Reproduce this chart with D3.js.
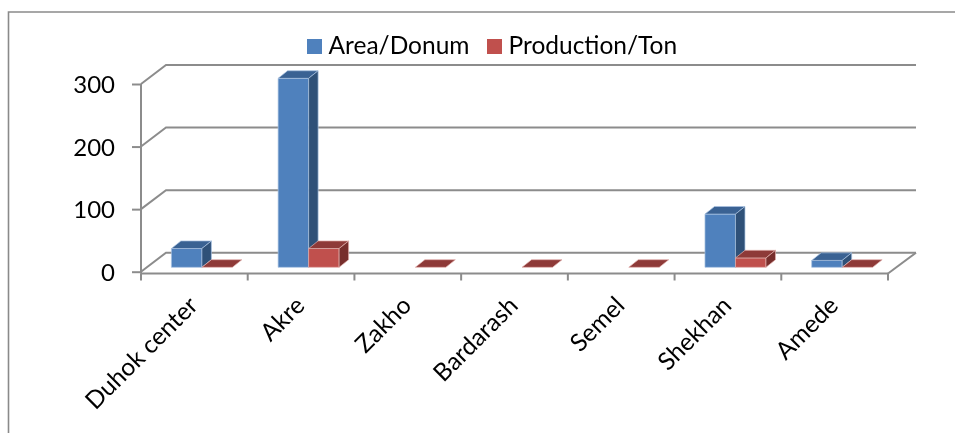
<!DOCTYPE html>
<html><head><meta charset="utf-8">
<script src="https://cdn.jsdelivr.net/npm/d3@7"></script>
<style>
html,body{margin:0;padding:0;background:#fff;overflow:hidden}
svg{display:block;filter:blur(0.35px)}
text{font-family:Lato,"Open Sans",sans-serif;fill:#000}
</style></head><body>
<svg id="c" width="955" height="433"></svg>
<script>
const categories = ["Duhok center","Akre","Zakho","Bardarash","Semel","Shekhan","Amede"];
const areaDonum = [30,302,0,0,0,85,11];
const productionTon = [0,30,0,0,0,15,0];
const yTicks = [0,100,200,300];
const seriesNames = ["Area/Donum","Production/Ton"];
const seriesValues = [areaDonum, productionTon];
const faceColors = ["#4F81BD","#C0504D"];
const topColors = ["#3A6293","#8E3A38"];
const sideColors = ["#2F5178","#772E2C"];
const edgeColors = ["#A9C3E2","#E3B0AE"];
const grid = "#8C8C8C";

const svg = d3.select("#c");
const x = d3.scaleBand().domain(categories).range([141,888]);
const y = d3.scaleLinear().domain([0,300]).range([271.7,84]);
const inner = d3.scaleBand().domain([0,1]).range([30.4,91.4]);
const wallDx = 25, wallDy = -19;
const barDx = 9.5, barDy = -7.6, barDrop = 4.4;

// frame
svg.append("path").attr("d","M8.5,433V12H955").attr("fill","none").attr("stroke","#8A8A8A").attr("stroke-width",1.6);

// back wall grid + side wall
const g = svg.append("g").attr("fill","none").attr("stroke",grid).attr("stroke-width",2);
g.selectAll(".back").data(yTicks).join("path")
  .attr("d",v=>`M${x.range()[0]},${y(v)}L${x.range()[0]+wallDx},${y(v)+wallDy}H${x.range()[1]+28}`);
g.append("path").attr("d",`M${x.range()[1]},${y(0)+1.8}L${x.range()[1]+28},${y(0)+wallDy}`);

// axes
const yAxis = svg.append("g").attr("transform",`translate(${x.range()[0]},0)`)
  .call(d3.axisLeft(y).tickValues(yTicks).tickSize(9).tickSizeOuter(0).tickPadding(7));
yAxis.select(".domain").attr("d",`M0,${y(300)}V${y(0)+2}`);
yAxis.selectAll("text").style("font-size","24px").attr("x",-26).attr("dy","0.36em");

const xAxis = svg.append("g").attr("transform",`translate(0,${y(0)+1.8})`)
  .call(d3.axisBottom(x).tickSize(0).tickFormat(""));
xAxis.select(".domain").attr("d",`M${x.range()[0]},0H${x.range()[1]}`);
xAxis.selectAll(".tick").remove();
const tickEdges = categories.map(c=>x(c)).concat([x.range()[1]]);
xAxis.selectAll(".edge").data(tickEdges).join("line").attr("class","edge")
  .attr("x1",d=>d).attr("x2",d=>d).attr("y1",0).attr("y2",7);
svg.selectAll(".domain,.tick line,.edge").attr("stroke",grid).attr("stroke-width",2);

// bars
categories.forEach((c,i)=>{
  seriesValues.forEach((vals,s)=>{
    const v = vals[i];
    if(v===0 && s===0) return;
    const x0 = x(c)+inner(s), w = inner.bandwidth();
    const yb = y(0)-barDrop, yt = y(v)-barDrop;
    const bar = svg.append("g").attr("stroke",edgeColors[s]).attr("stroke-width",0.7).attr("stroke-linejoin","round");
    if(v>0) bar.append("path").attr("fill",faceColors[s])
      .attr("d",`M${x0},${yb}V${yt}H${x0+w}V${yb}Z`);
    bar.append("path").attr("fill",topColors[s])
      .attr("d",`M${x0},${yt}L${x0+barDx},${yt+barDy}H${x0+w+barDx}L${x0+w},${yt}Z`);
    if(v>0) bar.append("path").attr("fill",sideColors[s])
      .attr("d",`M${x0+w},${yt}L${x0+w+barDx},${yt+barDy}V${yb+barDy}L${x0+w},${yb}Z`);
  });
});

// category labels
svg.append("g").selectAll("text").data(categories).join("text")
  .attr("text-anchor","end")
  .attr("transform",c=>`translate(${x(c)+x.bandwidth()/2+5},${307}) rotate(-45)`)
  .style("font-size","24.5px")
  .text(c=>c);

// legend
const legendX = [307,487];
const legend = svg.append("g").selectAll("g").data(seriesNames).join("g")
  .attr("transform",(d,i)=>`translate(${legendX[i]},39)`);
legend.append("rect").attr("width",15).attr("height",15).attr("fill",(d,i)=>faceColors[i]);
legend.append("text").attr("x",21.5).attr("y",15).style("font-size","24.5px").text(d=>d);
</script>
</body></html>
